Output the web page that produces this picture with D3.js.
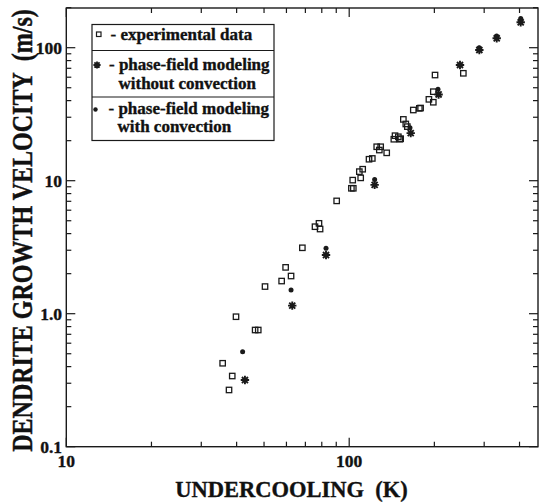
<!DOCTYPE html>
<html>
<head>
<meta charset="utf-8">
<script src="https://cdn.jsdelivr.net/npm/d3@7"></script>
<style>
  html, body { margin: 0; padding: 0; background: #fff; }
  svg { display: block; }
  text { font-family: "Liberation Serif", "Times New Roman", serif; font-weight: bold; fill: #111;
         stroke: #111; stroke-width: 0.35px; }
</style>
</head>
<body>
<script>
// Undercooling (K) and growth velocity (m/s)
const expUndercooling = [35.7, 38.6, 37.6, 39.8, 46.5, 47.7, 50.4, 57.7, 59.6, 62.3, 68.3, 75.7, 78.2, 78.9,
  90.3, 101.8, 103.4, 102.9, 109.8, 108.6, 111.6, 117.5, 120.7, 125.1, 129.2, 127.8, 135.7, 143.8, 145.2,
  149.2, 151.1, 152.0, 155.4, 158.5, 160.5, 168.5, 177.0, 178.8, 191.3, 198.3, 198.3, 201.1, 253.2];
const expVelocity = [0.424, 0.340, 0.267, 0.949, 0.754, 0.754, 1.60, 1.76, 2.23, 1.92, 3.13, 4.51, 4.78, 4.33,
  7.05, 8.77, 8.77, 10.1, 10.5, 11.7, 12.2, 14.5, 14.7, 18.0, 18.0, 17.0, 16.2, 20.5, 21.8,
  21.4, 20.5, 20.7, 28.9, 26.7, 25.5, 34.0, 35.0, 35.2, 40.9, 38.9, 46.7, 62.3, 64.2];

const noConvUndercooling = [42.8, 62.9, 82.8, 123, 165, 207, 246.4, 288.4, 332.2, 403.8];
const noConvVelocity = [0.317, 1.15, 2.76, 9.3, 22.8, 44.5, 74.1, 96.1, 117.7, 155.2];

const convUndercooling = [42.0, 62.3, 82.8, 123, 164, 206, 288, 332, 404];
const convVelocity = [0.518, 1.51, 3.10, 10.2, 25.0, 48.7, 100, 122.5, 166];

const xMajorTicks = [10, 100];
const xTickLabels = ["10", "100"];
const xMinorTicks = [20, 30, 40, 50, 60, 70, 80, 90, 200, 300, 400];
const yMajorTicks = [0.1, 1, 10, 100];
const yTickLabels = ["0.1", "1.0", "10", "100"];
const yMinorTicks = [0.2, 0.3, 0.4, 0.5, 0.6, 0.7, 0.8, 0.9, 2, 3, 4, 5, 6, 7, 8, 9, 20, 30, 40, 50, 60, 70, 80, 90, 200];

const legendLabels = [
  ["- experimental data"],
  ["- phase-field modeling", "without convection"],
  ["- phase-field modeling", "with convection"]
];

const W = 541, H = 503;
const plot = { left: 66.3, right: 538, top: 8, bottom: 446.7 };

const x = d3.scaleLog().domain([10, 10 ** (1 + (plot.right - plot.left) / 282.9)]).range([plot.left, plot.right]);
const y = d3.scaleLog().domain([0.1, 10 ** (-1 + (plot.bottom - plot.top) / 133)]).range([plot.bottom, plot.top]);

const svg = d3.select("body").append("svg").attr("width", W).attr("height", H);
svg.append("rect").attr("width", W).attr("height", H).attr("fill", "#fff");

const ink = "#1a1a1a";

// frame
svg.append("rect")
  .attr("x", plot.left).attr("y", plot.top)
  .attr("width", plot.right - plot.left).attr("height", plot.bottom - plot.top)
  .attr("fill", "none").attr("stroke", ink).attr("stroke-width", 1.4);

const ticks = svg.append("g").attr("stroke", ink).attr("stroke-width", 1.2);
const majLen = 9, minLen = 5;
function xTicks(vals, len) {
  vals.forEach(v => {
    const px = x(v);
    ticks.append("line").attr("x1", px).attr("x2", px).attr("y1", plot.bottom).attr("y2", plot.bottom - len);
    ticks.append("line").attr("x1", px).attr("x2", px).attr("y1", plot.top).attr("y2", plot.top + len);
  });
}
function yTicks(vals, len) {
  vals.forEach(v => {
    const py = y(v);
    ticks.append("line").attr("x1", plot.left).attr("x2", plot.left + len).attr("y1", py).attr("y2", py);
    ticks.append("line").attr("x1", plot.right).attr("x2", plot.right - len).attr("y1", py).attr("y2", py);
  });
}
xTicks(xMajorTicks, majLen); xTicks(xMinorTicks, minLen);
yTicks(yMajorTicks, majLen); yTicks(yMinorTicks, minLen);

// tick labels
svg.append("g").selectAll("text").data(xMajorTicks).join("text")
  .attr("x", d => x(d)).attr("y", 467).attr("text-anchor", "middle")
  .style("font-size", "17.5px").text((d, i) => xTickLabels[i]);
svg.append("g").selectAll("text").data(yMajorTicks).join("text")
  .attr("x", 62).attr("y", d => y(d) + 6).attr("text-anchor", "end")
  .style("font-size", "17.5px").text((d, i) => yTickLabels[i]);

// axis titles
svg.append("text").attr("x", 291.5).attr("y", 496.5).attr("text-anchor", "middle")
  .style("font-size", "22.5px").attr("xml:space", "preserve")
  .text("UNDERCOOLING  (K)");
svg.append("text")
  .attr("transform", "translate(31.5,230.5) rotate(-90) scale(1,1.25)")
  .attr("text-anchor", "middle").style("font-size", "24px").attr("xml:space", "preserve")
  .text("DENDRITE GROWTH VELOCITY  (m/s)");

// marker shapes
const starPath = r => {
  const d = r * 0.72;
  return `M${-r},0L${r},0M0,${-r}L0,${r}M${-d},${-d}L${d},${d}M${-d},${d}L${d},${-d}`;
};
const sq = 5.4;

const marks = svg.append("g");
marks.selectAll("rect.exp").data(d3.range(expUndercooling.length)).join("rect")
  .attr("class", "exp")
  .attr("x", i => x(expUndercooling[i]) - sq / 2).attr("y", i => y(expVelocity[i]) - sq / 2)
  .attr("width", sq).attr("height", sq)
  .attr("fill", "none").attr("stroke", ink).attr("stroke-width", 1.3);

marks.selectAll("path.noconv").data(d3.range(noConvUndercooling.length)).join("path")
  .attr("class", "noconv")
  .attr("transform", i => `translate(${x(noConvUndercooling[i])},${y(noConvVelocity[i])})`)
  .attr("d", starPath(4.2)).attr("stroke", ink).attr("stroke-width", 1.9).attr("fill", "none");

marks.selectAll("circle.conv").data(d3.range(convUndercooling.length)).join("circle")
  .attr("class", "conv")
  .attr("cx", i => x(convUndercooling[i])).attr("cy", i => y(convVelocity[i]))
  .attr("r", 2.5).attr("fill", ink);

// legend
const lg = svg.append("g");
lg.append("rect").attr("x", 92).attr("y", 24.5).attr("width", 182).attr("height", 116)
  .attr("fill", "#fff").attr("stroke", ink).attr("stroke-width", 1.2);
[50.5, 97].forEach(ly => lg.append("line").attr("x1", 92).attr("x2", 274).attr("y1", ly).attr("y2", ly)
  .attr("stroke", ink).attr("stroke-width", 1.2));

lg.append("rect").attr("x", 96.5).attr("y", 32).attr("width", 4.5).attr("height", 4.5)
  .attr("fill", "none").attr("stroke", ink).attr("stroke-width", 1.2);
lg.append("path").attr("transform", "translate(97,65)").attr("d", starPath(3.6))
  .attr("stroke", ink).attr("stroke-width", 1.8);
lg.append("circle").attr("cx", 95.5).attr("cy", 109.5).attr("r", 2.2).attr("fill", ink);

const rows = [
  { x: 110.5, ys: [39.5] },
  { x: 109, ys: [70, 88.5], x2: 118.5 },
  { x: 108.5, ys: [113.5, 132], x2: 117.5 }
];
legendLabels.forEach((lines, i) => {
  lines.forEach((t, j) => {
    lg.append("text").attr("x", j === 0 ? rows[i].x : rows[i].x2).attr("y", rows[i].ys[j])
      .style("font-size", "17px").text(t);
  });
});
</script>
</body>
</html>
